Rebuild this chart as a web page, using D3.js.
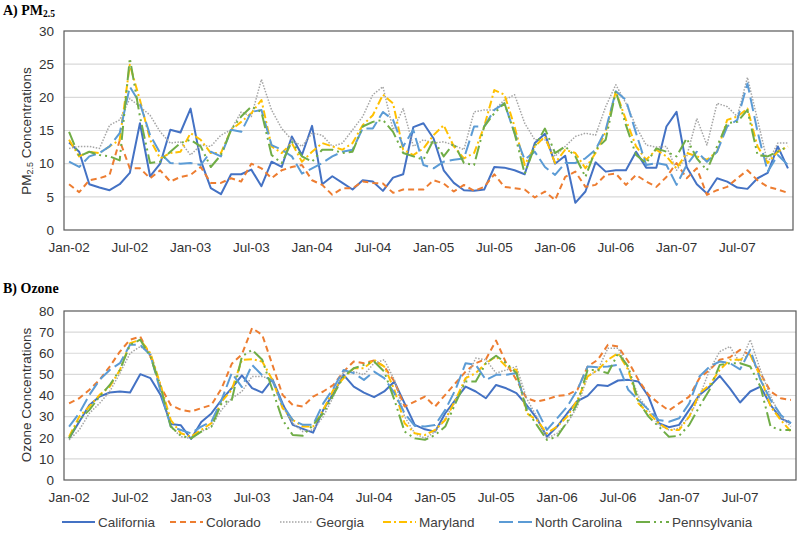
<!DOCTYPE html>
<html><head><meta charset="utf-8">
<script src="https://cdn.jsdelivr.net/npm/d3@7"></script>
<style>
html,body{margin:0;padding:0;background:#fff;}
svg{display:block;}
text{font-family:"Liberation Sans",Arial,sans-serif;}
text.ttl{font-family:"Liberation Serif","Times New Roman",serif;font-weight:bold;}
</style></head>
<body>
<svg id="c" width="800" height="533"></svg>
<script>
// ---------- DATA ----------
const monthNames = ["Jan","Feb","Mar","Apr","May","Jun","Jul","Aug","Sep","Oct","Nov","Dec"];
const years = ["02","03","04","05","06","07"];
const categories = years.flatMap(y => monthNames.map(m => m + "-" + y));
const xTickLabels = ["Jan-02","Jul-02","Jan-03","Jul-03","Jan-04","Jul-04","Jan-05","Jul-05","Jan-06","Jul-06","Jan-07","Jul-07"];
const seriesNames = ["California","Colorado","Georgia","Maryland","North Carolina","Pennsylvania"];
const pmTicks = [0,5,10,15,20,25,30];
const ozTicks = [0,10,20,30,40,50,60,70,80];

const pmCalifornia = [13.2,11.8,6.9,6.4,6.0,6.9,8.6,16.1,8.1,10.0,15.1,14.7,18.3,10.5,6.3,5.4,8.4,8.4,9.1,6.6,10.3,9.5,14.1,11.3,15.7,6.9,8.1,7.1,6.1,7.5,7.3,5.9,7.9,8.4,15.5,16.1,13.8,9.0,7.1,6.0,5.9,6.1,9.5,9.4,9.0,8.4,13.1,14.5,10.0,11.2,4.1,5.8,10.2,8.8,9.0,9.0,11.8,9.4,9.4,15.6,17.8,9.5,6.9,5.5,7.8,7.3,6.4,6.2,7.8,8.6,12.6,9.3];
const pmColorado = [6.9,5.7,7.5,7.8,8.3,13.5,9.3,9.3,7.8,9.0,7.3,8.0,8.3,9.5,7.1,7.1,7.8,7.3,10.0,9.3,7.8,9.0,9.5,9.8,7.5,6.8,5.3,6.3,6.3,7.3,7.1,7.0,5.6,6.1,6.1,6.1,7.5,7.0,5.8,6.8,5.9,6.5,8.4,6.5,6.3,6.1,4.9,5.8,4.5,8.0,8.8,6.5,6.8,8.3,8.5,6.8,8.3,7.3,6.5,8.0,10.1,7.8,9.3,5.3,6.0,6.5,7.8,9.0,7.5,6.5,6.1,5.6];
const pmGeorgia = [12.3,12.6,12.6,12.3,15.8,16.6,19.8,18.6,17.3,14.8,13.1,13.3,11.3,12.8,12.6,14.3,15.1,17.8,17.1,22.7,18.1,15.3,13.6,12.6,14.6,14.3,12.6,13.1,15.1,17.1,20.4,21.6,15.1,18.3,12.6,13.6,13.1,13.3,12.8,12.1,17.8,18.1,18.1,19.6,20.4,16.1,13.6,13.6,11.1,12.6,14.1,14.6,14.3,18.6,21.9,19.1,15.6,12.8,12.5,12.6,9.0,11.1,16.8,12.8,19.1,18.6,17.1,23.0,16.6,10.1,13.1,13.1];
const pmMaryland = [13.6,11.1,11.8,11.6,12.6,13.6,24.9,19.6,13.6,10.8,11.6,11.8,14.6,13.6,11.6,11.6,15.1,16.3,17.6,19.6,12.6,11.6,13.1,10.3,11.8,13.1,12.6,12.1,13.1,15.8,17.3,20.4,19.1,12.1,11.3,12.3,14.3,15.8,12.6,10.8,11.6,15.6,21.1,20.4,15.6,9.8,12.6,14.1,10.1,12.1,11.6,9.3,11.6,14.8,20.9,16.6,12.6,10.6,12.1,11.1,9.3,11.6,11.1,10.6,11.8,16.6,17.1,18.3,12.6,10.1,11.8,12.6];
const pmNorthCarolina = [10.3,9.5,11.1,11.6,12.6,14.6,21.6,19.1,14.3,11.6,10.1,10.0,10.1,9.8,11.8,11.1,15.1,14.8,17.8,18.1,12.8,12.1,11.1,8.5,9.3,10.1,11.1,11.8,12.1,15.3,15.3,17.8,16.6,12.6,15.1,9.8,9.3,10.3,10.6,10.8,15.6,15.6,18.1,19.1,14.6,10.6,11.8,9.5,8.3,10.1,10.1,10.8,12.1,15.1,20.9,19.6,14.6,9.8,10.1,9.8,6.8,9.8,11.8,10.3,11.8,15.6,16.6,22.1,14.8,8.8,11.3,9.8];
const pmPennsylvania = [14.8,11.1,11.8,11.3,11.1,10.5,25.9,17.1,10.1,10.3,11.8,13.1,13.6,12.6,9.5,11.3,15.1,17.1,18.6,17.8,11.3,10.1,13.3,11.1,10.3,12.1,12.1,11.6,11.8,15.6,16.3,16.6,14.8,11.6,11.1,10.6,13.6,11.1,13.1,10.1,9.8,15.6,17.6,19.1,14.6,8.5,12.6,15.3,11.6,12.6,11.1,8.0,12.1,13.6,20.9,15.8,11.3,10.1,12.3,11.8,11.1,13.8,10.8,9.0,12.6,16.1,16.3,18.1,11.3,11.1,11.8,12.6];

const ozCalifornia = [19.7,27.6,35.5,39.5,41.4,41.9,41.4,50.1,48.2,40.3,26.5,25.9,19.4,27.5,31.5,38.0,43.5,49.5,43.5,41.4,47.7,36.3,26.1,24.2,22.4,33.2,41.1,49.8,44.2,41.4,39.2,41.9,46.6,36.3,26.1,24.0,22.9,31.6,37.9,44.2,41.9,38.7,45.0,43.4,41.1,35.5,29.2,20.5,25.3,31.6,37.4,39.8,45.0,44.5,47.1,47.4,46.6,39.5,26.9,25.0,26.1,33.2,40.3,44.2,49.3,43.4,36.7,41.9,44.2,35.5,29.2,26.9];
const ozColorado = [36.3,38.7,42.7,47.4,53.7,60.8,66.4,67.9,58.5,44.2,35.5,33.2,32.4,34.0,35.5,43.4,55.0,59.5,71.9,68.7,54.5,40.3,35.5,34.8,39.5,41.9,45.0,51.3,56.1,55.3,56.6,53.7,46.6,34.8,37.1,39.5,34.8,40.3,45.8,51.3,55.3,57.2,66.0,55.3,47.4,38.7,37.1,38.2,39.8,40.3,42.7,53.7,56.9,64.0,63.2,56.1,47.4,40.3,36.3,32.9,36.3,39.5,48.2,52.1,56.9,58.1,61.6,59.2,50.6,41.9,38.7,37.9];
const ozGeorgia = [19.0,23.7,31.6,36.3,41.9,50.6,60.0,63.2,60.0,45.0,25.3,20.5,19.7,22.9,25.3,33.2,38.7,41.9,49.0,49.0,47.4,34.8,26.9,22.9,23.7,30.0,39.5,51.3,51.3,49.8,55.3,56.9,47.4,30.0,22.1,19.7,22.9,29.2,37.1,47.4,57.7,56.9,50.6,52.1,53.7,38.7,30.0,19.7,22.1,26.9,34.8,49.0,52.1,62.4,62.4,52.9,39.5,33.2,26.1,23.7,24.5,30.0,39.5,52.1,60.8,63.2,55.3,66.4,52.1,39.5,30.0,25.3];
const ozMaryland = [20.5,30.0,34.8,40.3,44.2,52.1,64.8,66.4,60.0,45.0,28.4,22.1,20.5,23.7,26.9,37.1,42.7,56.9,57.2,56.1,47.4,34.0,28.4,25.3,25.3,33.2,42.7,48.2,52.9,52.9,56.9,53.7,42.7,26.9,22.1,21.3,23.7,28.4,37.9,48.2,50.6,55.3,58.5,53.7,52.1,31.6,28.4,22.1,25.3,30.0,37.9,49.0,52.1,56.9,60.0,52.1,36.3,31.6,26.9,23.7,23.7,30.0,41.1,45.0,52.1,56.9,56.9,59.2,49.0,34.8,28.4,22.9];
const ozNorthCarolina = [25.3,31.6,40.3,47.4,52.1,55.3,64.0,64.0,59.2,41.9,25.3,23.7,22.1,25.3,27.6,37.9,50.6,44.0,54.5,49.5,47.0,35.5,28.4,26.1,26.1,36.3,43.4,52.1,50.6,47.4,51.3,48.2,41.1,31.6,25.6,25.3,26.0,33.2,42.7,55.3,54.5,47.4,49.8,49.8,50.6,34.0,33.2,23.7,29.2,34.8,42.7,53.7,53.4,53.7,54.5,42.7,37.9,33.2,28.4,27.6,29.2,36.3,49.0,53.7,56.1,55.3,52.4,61.6,47.4,37.9,30.8,26.9];
const ozPennsylvania = [19.7,28.4,33.2,39.5,45.0,52.1,64.0,66.4,58.5,44.2,25.3,21.0,19.7,22.9,25.3,36.3,37.9,58.5,61.6,56.9,42.7,28.4,21.3,21.0,26.1,31.6,40.3,49.0,52.9,54.5,56.1,51.3,37.9,22.9,19.7,19.0,21.3,25.3,36.3,46.6,46.6,55.3,58.8,55.3,50.6,33.2,26.1,19.0,20.5,27.6,36.3,52.1,52.1,50.5,60.0,53.7,37.1,30.0,25.3,20.5,20.9,26.1,34.8,42.7,54.5,55.3,55.3,53.7,44.2,25.3,23.7,23.7];

const pmSeries = [pmCalifornia,pmColorado,pmGeorgia,pmMaryland,pmNorthCarolina,pmPennsylvania];
const ozSeries = [ozCalifornia,ozColorado,ozGeorgia,ozMaryland,ozNorthCarolina,ozPennsylvania];

// ---------- STYLES ----------
const styles = [
  {color:"#4472C4", dash:null, w:2},
  {color:"#ED7D31", dash:"6,4", w:2},
  {color:"#A5A5A5", dash:"1.5,1.5", w:1.5},
  {color:"#FFC000", dash:"8,3,2,3", w:2},
  {color:"#5B9BD5", dash:"14,5", w:2},
  {color:"#70AD47", dash:"14,4,2,4,2,4", w:2}
];

const svg = d3.select("#c");

function panel(opts){
  const {left,right,top,bottom,max,ticks,data,title,titleSub,titleY,ylabelMain,ylabelSub,ylabelAfter,ylabelY} = opts;
  const x = d3.scaleBand().domain(categories).range([left,right]).paddingInner(0).paddingOuter(0);
  const y = d3.scaleLinear().domain([0,max]).range([bottom,top]);
  const cx = d => x(d) + x.bandwidth()/2;

  svg.append("g").selectAll("line").data(ticks.filter(t=>t>0 && t<max)).join("line")
    .attr("x1",left).attr("x2",right).attr("y1",d=>y(d)).attr("y2",d=>y(d))
    .attr("stroke","#d9d9d9").attr("stroke-width",1.2);

  const ya = d3.axisLeft(y).tickValues(ticks).tickSize(0).tickPadding(10);
  const gy = svg.append("g").attr("transform",`translate(${left},0)`).call(ya);
  gy.select(".domain").remove();
  gy.selectAll("text").attr("font-size","13.5px").attr("fill","#333");

  const xa = d3.axisBottom(x).tickValues(xTickLabels).tickSize(0).tickPadding(12);
  const gx = svg.append("g").attr("transform",`translate(0,${bottom})`).call(xa);
  gx.select(".domain").remove();
  gx.selectAll("text").attr("font-size","13.5px").attr("fill","#333");

  const line = d3.line().x((d,i)=>cx(categories[i])).y(d=>y(d));
  data.forEach((s,k)=>{
    const st = styles[k];
    svg.append("path").datum(s).attr("d",line)
      .attr("fill","none").attr("stroke",st.color).attr("stroke-width",st.w)
      .attr("stroke-dasharray",st.dash).attr("stroke-linejoin","round");
  });

  svg.append("rect").attr("x",left).attr("y",top).attr("width",right-left).attr("height",bottom-top)
    .attr("fill","none").attr("stroke","#595959").attr("stroke-width",1.2);

  const t = svg.append("text").attr("class","ttl").attr("x",3).attr("y",titleY)
    .attr("font-size","14px").attr("fill","#000");
  t.append("tspan").text(title);
  if(titleSub) t.append("tspan").attr("font-size","9.5px").attr("dy","1.5").text(titleSub);

  const yl = svg.append("text").attr("transform",`translate(31,${ylabelY}) rotate(-90)`).attr("text-anchor","middle")
    .attr("font-size","13.5px").attr("fill","#333");
  yl.append("tspan").text(ylabelMain);
  if(ylabelSub){
    yl.append("tspan").attr("font-size","9px").attr("dy","2").text(ylabelSub);
    yl.append("tspan").attr("dy","-2").text(ylabelAfter);
  }
}

panel({left:64,right:793,top:31,bottom:230,max:30,ticks:pmTicks,data:pmSeries,
  title:"A) PM",titleSub:"2.5",titleY:15,ylabelMain:"PM",ylabelSub:"2.5",ylabelAfter:" Concentrations",ylabelY:131});
panel({left:64,right:796,top:311,bottom:480,max:80,ticks:ozTicks,data:ozSeries,
  title:"B) Ozone",titleSub:null,titleY:293,ylabelMain:"Ozone Concentrations",ylabelSub:null,ylabelY:395});

const legendX = [62,170,280,383,499,636];
const lg = svg.append("g");
seriesNames.forEach((n,k)=>{
  const st = styles[k];
  const g = lg.append("g").attr("transform",`translate(${legendX[k]},522)`);
  g.append("line").attr("x1",0).attr("x2",33).attr("y1",0).attr("y2",0)
    .attr("stroke",st.color).attr("stroke-width",st.w).attr("stroke-dasharray",st.dash);
  g.append("text").attr("x",36).attr("y",5).attr("font-size","13.5px").attr("fill","#404040").text(n);
});
</script>
</body></html>
